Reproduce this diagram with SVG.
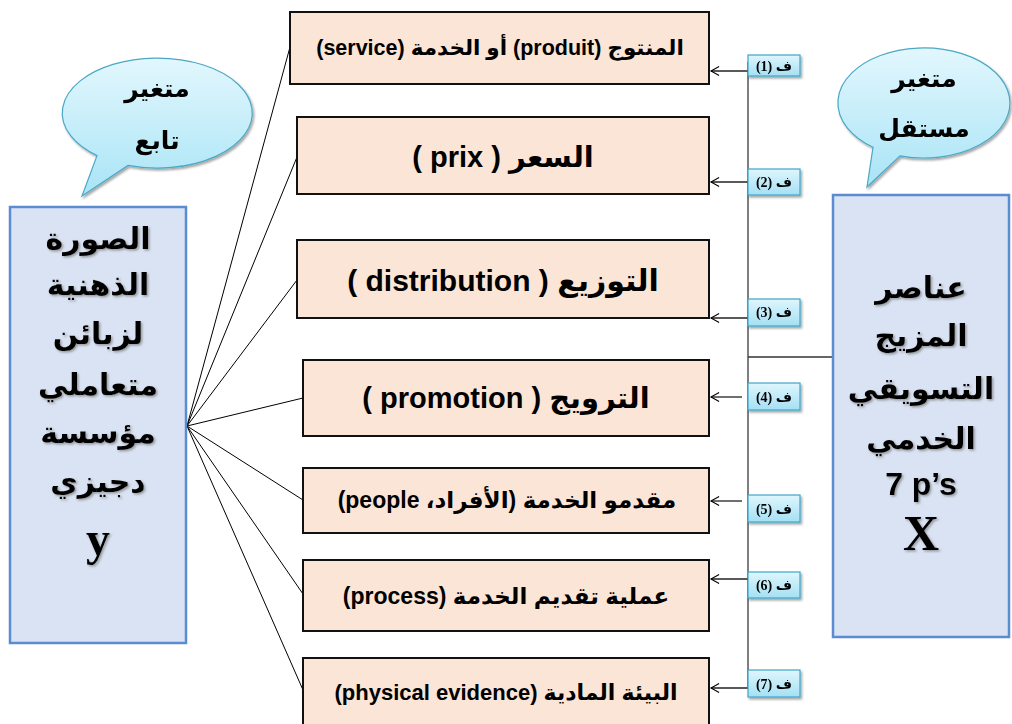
<svg xmlns="http://www.w3.org/2000/svg" width="1012" height="724" viewBox="0 0 1012 724">
  <defs>
    <linearGradient id="bubbleFill" x1="0" y1="0" x2="0" y2="1">
      <stop offset="0" stop-color="#e2f7fd"/>
      <stop offset="1" stop-color="#a9e4f6"/>
    </linearGradient>
    <linearGradient id="tagFill" x1="0" y1="0" x2="0" y2="1">
      <stop offset="0" stop-color="#dff6fd"/>
      <stop offset="1" stop-color="#a4e0f4"/>
    </linearGradient>
    <filter id="softShadow" x="-10%" y="-10%" width="130%" height="140%">
      <feDropShadow dx="1.5" dy="2" stdDeviation="1.2" flood-color="#000" flood-opacity="0.35"/>
    </filter>
    <filter id="textShadow" x="-10%" y="-10%" width="130%" height="140%">
      <feDropShadow dx="1.5" dy="1.5" stdDeviation="1" flood-color="#666" flood-opacity="0.6"/>
    </filter>
    <marker id="openArrow" viewBox="0 0 10 10" refX="9" refY="5" markerWidth="9" markerHeight="10" markerUnits="userSpaceOnUse" orient="auto" overflow="visible">
      <path d="M0,0 L9,5 L0,10" fill="none" stroke="#000" stroke-width="1.2"/>
    </marker>
  </defs>
  <style>
    .elem rect { fill: #fbe5d6; stroke: #111; stroke-width: 2; }
    .elem text { font-family: "Liberation Sans", "DejaVu Sans", sans-serif; font-weight: bold; fill: #000; text-anchor: middle; dominant-baseline: central; }
    .var rect { fill: #dae3f3; stroke: #5b8bd0; stroke-width: 2.5; }
    .big { font-family: "DejaVu Sans", sans-serif; font-weight: bold; font-size: 30px; fill: #000; text-anchor: middle; dominant-baseline: central; }
    .latin { font-family: "Liberation Serif", serif; font-weight: bold; fill: #000; text-anchor: middle; dominant-baseline: central; }
    .bubble path { fill: url(#bubbleFill); stroke: #4aa8c6; stroke-width: 1.2; }
    .bubble text { font-family: "DejaVu Sans", sans-serif; font-weight: bold; font-size: 25px; fill: #000; text-anchor: middle; dominant-baseline: central; }
    .tag rect { fill: url(#tagFill); stroke: #3fa6c8; stroke-width: 1.2; }
    .tag text { font-family: "Liberation Serif", "DejaVu Sans", serif; font-weight: bold; font-size: 14px; fill: #000; text-anchor: middle; dominant-baseline: central; }
    .links line { stroke: #000; stroke-width: 1; }
    .trunk { stroke: #7f7f7f; stroke-width: 2; fill: none; }
    .hyp { stroke: #222; stroke-width: 1.3; marker-end: url(#openArrow); }
  </style>

  <!-- connectors -->
  <g id="connectors">
    <g class="links">
      <line x1="187" y1="426" x2="290" y2="47"/>
      <line x1="187" y1="426" x2="297" y2="157"/>
      <line x1="187" y1="426" x2="297" y2="280"/>
      <line x1="187" y1="426" x2="303" y2="398"/>
      <line x1="187" y1="426" x2="303" y2="500"/>
      <line x1="187" y1="426" x2="303" y2="594"/>
      <line x1="187" y1="426" x2="303" y2="690"/>
    </g>
    <line class="trunk" x1="748" y1="62" x2="748" y2="689"/>
    <line x1="748" y1="357" x2="833" y2="357" stroke="#333" stroke-width="1.3"/>
    <line class="hyp" x1="748" y1="71" x2="711" y2="71"/>
    <line class="hyp" x1="748" y1="182" x2="711" y2="182"/>
    <line class="hyp" x1="748" y1="318" x2="711" y2="318"/>
    <line class="hyp" x1="742" y1="397" x2="711" y2="397"/>
    <line class="hyp" x1="742" y1="501" x2="711" y2="501"/>
    <line class="hyp" x1="748" y1="579" x2="711" y2="579"/>
    <line class="hyp" x1="748" y1="688" x2="711" y2="688"/>
  </g>

  <!-- dependent variable -->
  <g id="var-y" class="var">
    <rect x="10" y="207" width="176" height="436"/>
    <g filter="url(#textShadow)">
      <text class="big" x="98" y="238">الصورة</text>
      <text class="big" x="98" y="284">الذهنية</text>
      <text class="big" x="98" y="333">لزبائن</text>
      <text class="big" x="98" y="384">متعاملي</text>
      <text class="big" x="98" y="432">مؤسسة</text>
      <text class="big" x="98" y="481">دجيزي</text>
      <text class="latin" x="98" y="538" font-size="48">y</text>
    </g>
  </g>

  <!-- independent variable -->
  <g id="var-x" class="var">
    <rect x="833" y="195" width="176" height="442"/>
    <g filter="url(#textShadow)">
      <text class="big" x="921" y="287">عناصر</text>
      <text class="big" x="921" y="335">المزيج</text>
      <text class="big" x="921" y="388">التسويقي</text>
      <text class="big" x="921" y="438">الخدمي</text>
      <text x="921" y="484" font-family="'Liberation Sans', sans-serif" font-weight="bold" font-size="32" text-anchor="middle" dominant-baseline="central">7 p’s</text>
      <text class="latin" x="921" y="533" font-size="50">X</text>
    </g>
  </g>

  <!-- speech bubbles -->
  <g id="bubble-dependent" class="bubble" filter="url(#softShadow)">
    <path d="M128,165.4 A95,55 0 1 0 97,155.6 L82,196 Z"/>
    <text x="157" y="88">متغير</text>
    <text x="157" y="140">تابع</text>
  </g>
  <g id="bubble-independent" class="bubble" filter="url(#softShadow)">
    <path d="M900,155.8 A86,55 0 1 0 873,147.3 L867,187 Z"/>
    <text x="924" y="78">متغير</text>
    <text x="924" y="128">مستقل</text>
  </g>

  <!-- marketing mix elements -->
  <g id="el-product" class="elem">
    <rect x="290" y="12" width="419" height="72"/>
    <text x="500" y="48" font-size="21.5" direction="rtl">المنتوج (produit) أو الخدمة (service)</text>
  </g>
  <g id="el-price" class="elem">
    <rect x="297" y="117" width="412" height="77"/>
    <text x="503" y="157" font-size="29" direction="rtl">السعر ( prix )</text>
  </g>
  <g id="el-place" class="elem">
    <rect x="297" y="240" width="412" height="78"/>
    <text x="503" y="280" font-size="30" direction="rtl">التوزيع ( distribution )</text>
  </g>
  <g id="el-promotion" class="elem">
    <rect x="303" y="360" width="406" height="76"/>
    <text x="506" y="398" font-size="29" direction="rtl">الترويج ( promotion )</text>
  </g>
  <g id="el-people" class="elem">
    <rect x="303" y="468" width="406" height="65"/>
    <text x="507" y="500" font-size="23" direction="rtl">مقدمو الخدمة (الأفراد، people)</text>
  </g>
  <g id="el-process" class="elem">
    <rect x="303" y="560" width="406" height="71"/>
    <text x="506" y="596" font-size="23" direction="rtl">عملية تقديم الخدمة (process)</text>
  </g>
  <g id="el-evidence" class="elem">
    <rect x="303" y="658" width="406" height="72"/>
    <text x="506" y="692" font-size="22" direction="rtl">البيئة المادية (physical evidence)</text>
  </g>

  <!-- hypothesis tags -->
  <g id="tag-1" class="tag" filter="url(#softShadow)"><rect x="748" y="55" width="52" height="21"/><text x="774" y="66" direction="rtl">ف (1)</text></g>
  <g id="tag-2" class="tag" filter="url(#softShadow)"><rect x="748" y="169" width="52" height="26"/><text x="774" y="182" direction="rtl">ف (2)</text></g>
  <g id="tag-3" class="tag" filter="url(#softShadow)"><rect x="748" y="299" width="52" height="27"/><text x="774" y="312" direction="rtl">ف (3)</text></g>
  <g id="tag-4" class="tag" filter="url(#softShadow)"><rect x="748" y="383" width="52" height="27"/><text x="774" y="397" direction="rtl">ف (4)</text></g>
  <g id="tag-5" class="tag" filter="url(#softShadow)"><rect x="748" y="495" width="52" height="27"/><text x="774" y="509" direction="rtl">ف (5)</text></g>
  <g id="tag-6" class="tag" filter="url(#softShadow)"><rect x="748" y="572" width="52" height="26"/><text x="774" y="585" direction="rtl">ف (6)</text></g>
  <g id="tag-7" class="tag" filter="url(#softShadow)"><rect x="748" y="670" width="52" height="27"/><text x="774" y="684" direction="rtl">ف (7)</text></g>
</svg>
